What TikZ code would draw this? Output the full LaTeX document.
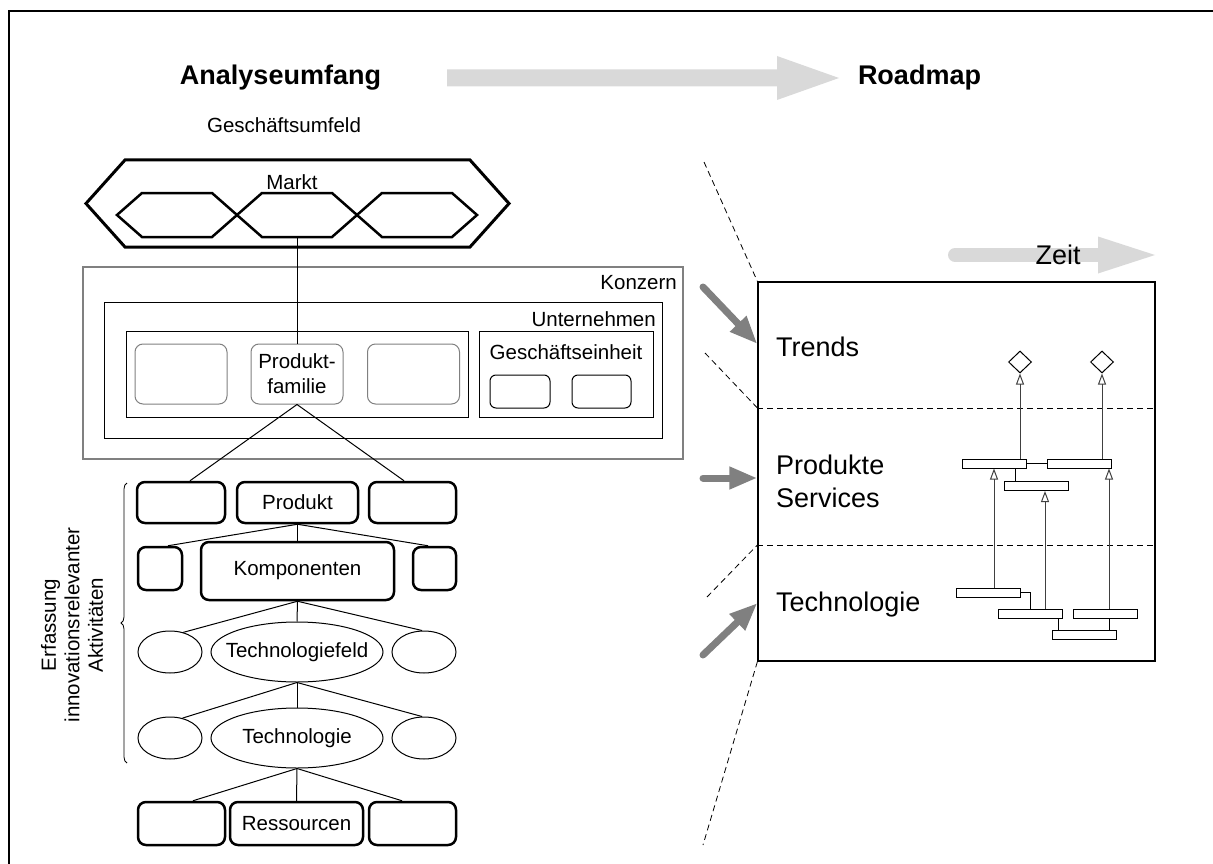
\documentclass[tikz,border=0pt]{standalone}
\usepackage{fontspec}
\setmainfont{Liberation Sans}
\usetikzlibrary{arrows.meta, shapes.geometric, positioning, decorations.pathreplacing, calc}
\newcommand{\labelsize}{\fontsize{20.5}{25}\selectfont}
\newcommand{\titlesize}{\fontsize{27}{33}\selectfont}

\begin{document}
\begin{tikzpicture}[x=1pt, y=-1pt,
    txt/.style={inner sep=0pt, font=\labelsize},
    bigtxt/.style={inner sep=0pt, font=\titlesize},
    plainbox/.style={draw, line width=1pt, inner sep=0pt},
    thickbox/.style={draw, rounded corners=8pt, line width=2.5pt, inner sep=0pt, font=\labelsize},
    famb/.style={draw=gray, rounded corners=8pt, line width=1pt, inner sep=0pt, minimum width=92pt, minimum height=60pt, font=\labelsize},
    ell/.style={draw, ellipse, line width=1pt, inner sep=0pt},
    bar/.style={draw, fill=white, line width=1pt, minimum width=64pt, minimum height=9pt, inner sep=0pt},
    ms/.style={draw, diamond, line width=1pt, minimum width=23pt, minimum height=22pt, inner sep=0pt},
    dep/.style={black!75, line width=1pt, -{Triangle[open, length=11pt, width=8pt]}},
    feed/.style={gray, line width=7pt, line cap=round, -{Triangle[length=28pt, width=21pt]}},
    guide/.style={line width=0.8pt, dash pattern=on 6pt off 4pt},
]
\useasboundingbox (0,0) rectangle (1213,864);
\draw[line width=2pt] (1213,11) -- (9,11) -- (9,864);

% Kopfzeile
\fill[gray!30] (447,69.5) -- (777,69.5) -- (777,56) -- (839,78) -- (777,100) -- (777,86.5) -- (447,86.5) -- cycle;
\node[bigtxt, font=\titlesize\bfseries] (ana) at (280.5,78) {Analyseumfang};
\node[bigtxt, font=\titlesize\bfseries] (road) at (919.5,78) {Roadmap};

% Analyseumfang
\node[txt] (umfeld) at (284,125) {Geschäftsumfeld};
\draw[line width=3pt] (86,203.5) -- (125,160) -- (470,160) -- (509,203.5) -- (470,247) -- (125,247) -- cycle;
\foreach \cx in {177,297,417}
    \draw[line width=2.5pt] (\cx-60,215) -- (\cx-35,193) -- (\cx+35,193) -- (\cx+60,215) -- (\cx+35,237) -- (\cx-35,237) -- cycle;
\node[txt] (markt) at (292,182) {Markt};
\coordinate (mkt) at (297,237);

\node[draw=gray, line width=1.5pt, inner sep=0pt, minimum width=600pt, minimum height=192pt] (konzern) at (383,363) {};
\node[txt, anchor=east] (konzernlbl) at (677,283) {Konzern};
\node[plainbox, minimum width=558pt, minimum height=136pt] (untern) at (383,370) {};
\node[txt, anchor=east] (unternlbl) at (656,319) {Unternehmen};
\node[plainbox, minimum width=342pt, minimum height=86pt] (pfbox) at (297,374) {};
\node[plainbox, minimum width=174pt, minimum height=86pt] (gebox) at (566,374) {};
\node[txt] (gelbl) at (566,352) {Geschäftseinheit};
\node[famb] (pf1) at (181,374) {};
\node[famb, align=center] (pf) at (297,374) {Produkt-\\familie};
\node[famb] (pf3) at (413.5,374) {};
\node[plainbox, rounded corners=6pt, minimum width=60pt, minimum height=33pt] (ge1) at (520,391.5) {};
\node[plainbox, rounded corners=6pt, minimum width=59pt, minimum height=33pt] (ge2) at (601.5,391.5) {};
\draw[line width=1pt] (mkt) -- (pf.north);

\node[thickbox, minimum width=88pt, minimum height=41pt] (p1) at (181,502.5) {};
\node[thickbox, minimum width=121pt, minimum height=41pt] (prod) at (297.5,502.5) {Produkt};
\node[thickbox, minimum width=87pt, minimum height=41pt] (p3) at (412.5,502.5) {};
\node[thickbox, minimum width=44pt, minimum height=43pt] (k1) at (160,568.5) {};
\node[thickbox, minimum width=193pt, minimum height=58pt] (komp) at (297.5,571) {Komponenten};
\node[thickbox, minimum width=43pt, minimum height=43pt] (k3) at (434.5,568.5) {};
\node[ell, minimum width=64pt, minimum height=42pt] (tf1) at (170,652) {};
\node[ell, minimum width=172pt, minimum height=60pt, label={[txt]center:Technologiefeld}] (tf) at (297,652) {};
\node[ell, minimum width=64pt, minimum height=42pt] (tf3) at (424,652) {};
\node[ell, minimum width=64pt, minimum height=42pt] (te1) at (170,738) {};
\node[ell, minimum width=172pt, minimum height=60pt, label={[txt]center:Technologie}] (te) at (297,738) {};
\node[ell, minimum width=64pt, minimum height=42pt] (te3) at (424,738) {};
\node[thickbox, minimum width=87pt, minimum height=43pt] (r1) at (181.5,823.5) {};
\node[thickbox, minimum width=133pt, minimum height=43pt] (res) at (296.5,823.5) {Ressourcen};
\node[thickbox, minimum width=87pt, minimum height=43pt] (r3) at (412.5,823.5) {};

\draw[line width=1pt] (pf.south) -- ([xshift=9pt]p1.north);
\draw[line width=1pt] (pf.south) -- ([xshift=-8.5pt]p3.north);
\draw[line width=1pt] (prod.south) -- ([xshift=8pt]k1.north);
\draw[line width=1pt] (prod.south) -- (komp.north);
\draw[line width=1pt] (prod.south) -- ([xshift=-6.5pt]k3.north);
\draw[line width=1pt] (komp.south) -- (tf1.56);
\draw[line width=1pt] (komp.south) -- (tf.north);
\draw[line width=1pt] (komp.south) -- (tf3.95);
\draw[line width=1pt] (tf.south) -- (te1.58);
\draw[line width=1pt] (tf.south) -- (te.north);
\draw[line width=1pt] (tf.south) -- (te3.95);
\draw[line width=1pt] (te.south) -- ([xshift=11.5pt]r1.north);
\draw[line width=1pt] (te.south) -- (res.north);
\draw[line width=1pt] (te.south) -- ([xshift=-10.5pt]r3.north);

\draw[line width=0.8pt, decorate, decoration={brace, amplitude=6pt}] (127,763) -- (127,483);
\node[txt, rotate=90, align=center, font=\fontsize{20.5}{23.5}\selectfont] (erf) at (72,625) {Erfassung\\innovationsrelevanter\\Aktivitäten};

% Roadmap
\draw[gray!30, line width=14pt, line cap=round] (955,255) -- (1100,255);
\fill[gray!30] (1098,236.5) -- (1155,255) -- (1098,273.5) -- cycle;
\node[bigtxt] (zeit) at (1058,255) {Zeit};

\node[draw, line width=1.2pt, inner sep=0pt, minimum width=397pt, minimum height=379pt] (rm) at (956.5,471.5) {};
\draw[guide] (rm.west |- 0,408) -- (rm.east |- 0,408);
\draw[guide] (rm.west |- 0,545) -- (rm.east |- 0,545);
\coordinate (g1) at (704,162);
\coordinate (g2) at (705,353);
\coordinate (g3) at (707,597);
\coordinate (g4) at (703,845);
\draw[guide] (g1) -- (rm.north west);
\draw[guide] (g2) -- (rm.west |- 0,408);
\draw[guide] (g3) -- (rm.west |- 0,545);
\draw[guide] (rm.south west) -- (g4);

\node[bigtxt, anchor=west] (trends) at (776,347) {Trends};
\node[bigtxt, anchor=west, align=left] (ps) at (776,481) {Produkte\\Services};
\node[bigtxt, anchor=west] (techno) at (776,605) {Technologie};

\coordinate (f1) at (703,287);
\coordinate (f2) at (703,478);
\coordinate (f3) at (703,655);
\draw[feed] (f1) -- (rm.west |- 0,344);
\draw[feed] (f2) -- (rm.west |- 0,478);
\draw[feed] (f3) -- (rm.west |- 0,603);

\node[ms] (dA) at (1020,362) {};
\node[ms] (dB) at (1102,362) {};
\node[bar] (bA) at (994,463.5) {};
\node[bar] (bB) at (1079.5,463.5) {};
\node[bar] (bC) at (1036.5,486) {};
\node[bar] (bD) at (988,592.5) {};
\node[bar] (bE) at (1030.5,613.5) {};
\node[bar] (bF) at (1105,613.5) {};
\node[bar] (bG) at (1084,635) {};

\draw[dep] (dA.south |- bA.north) -- (dA.south);
\draw[dep] (dB.south |- bB.north) -- (dB.south);
\draw[line width=1pt] (bA.east) -- (bB.west);
\draw[line width=1pt] ([xshift=-11pt]bA.south east) -- ([xshift=-11pt]bA.south east |- bC.north);
\draw[dep] (bA.south |- bD.north) -- (bA.south);
\draw[dep] ([xshift=8.5pt]bC.south |- bE.north) -- ([xshift=8.5pt]bC.south);
\draw[line width=1pt] ([xshift=29.5pt]bB.south |- bG.north) -- ([xshift=29.5pt]bB.south |- bF.south);
\draw[dep] ([xshift=29.5pt]bB.south |- bF.north) -- ([xshift=29.5pt]bB.south);
\draw[line width=1pt] (bD.east) -- ++(10,0) -| (bE.north);
\draw[line width=1pt] ([xshift=27.5pt]bE.south) -- ([xshift=27.5pt]bE.south |- bG.north);
\end{tikzpicture}
\end{document}
